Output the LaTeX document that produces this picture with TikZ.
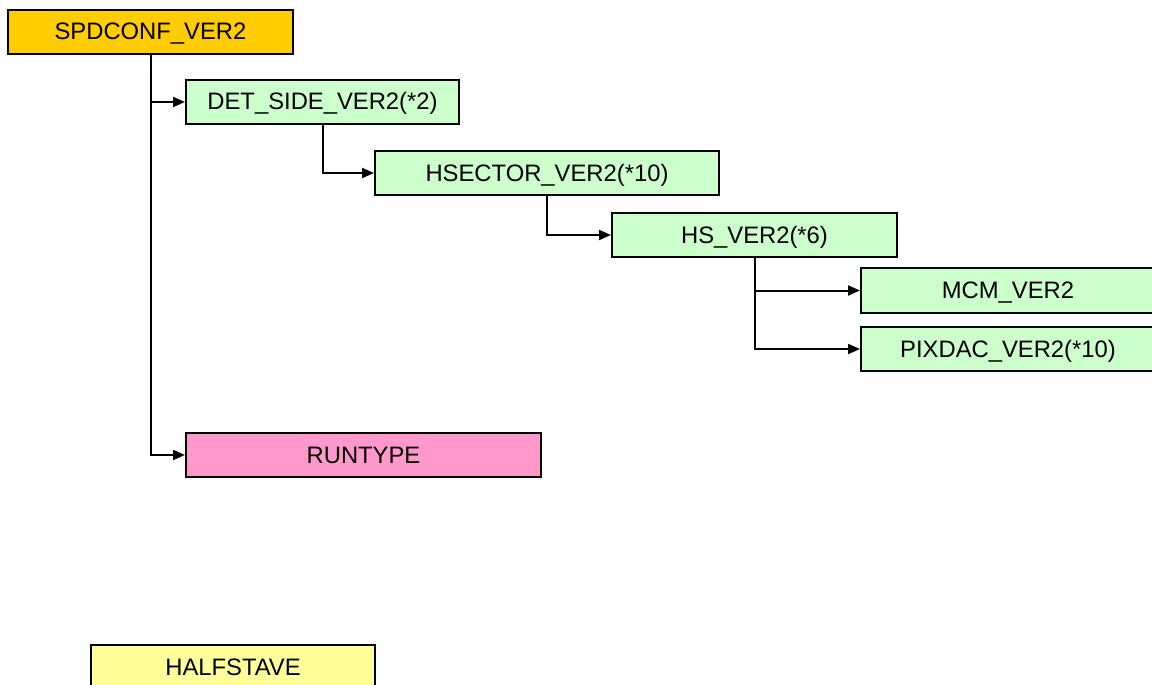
\documentclass[tikz,border=0pt]{standalone}
\usepackage{fontspec}
\setmainfont{Liberation Sans}
\usetikzlibrary{arrows.meta}
\definecolor{orangebox}{HTML}{FFCC00}
\definecolor{greenbox}{HTML}{CCFFCC}
\definecolor{pinkbox}{HTML}{FF99CC}
\definecolor{yellowbox}{HTML}{FFFF99}
\tikzset{
  box/.style={draw=black, line width=2pt, rectangle, inner sep=0pt,
    minimum height=44pt, text height=16pt, text depth=0pt,
    font=\fontsize{23.8}{28}\selectfont, text=black},
  conn/.style={draw=black, line width=2pt, -{Triangle[length=12pt,width=10pt]}}
}
\begin{document}
\begin{tikzpicture}[x=1pt,y=-1pt]
\useasboundingbox (0,0) rectangle (1152,685);
\clip (0,0) rectangle (1152,685);
\node[box, fill=orangebox, minimum width=285pt] (spd) at (150.5,32) {SPDCONF\_VER2};
\node[box, fill=greenbox, minimum width=273pt] (det) at (322.5,102) {DET\_SIDE\_VER2(*2)};
\node[box, fill=greenbox, minimum width=344pt] (hsec) at (547,173) {HSECTOR\_VER2(*10)};
\node[box, fill=greenbox, minimum width=285pt] (hs) at (754.5,235) {HS\_VER2(*6)};
\node[box, fill=greenbox, minimum width=294pt, minimum height=45pt] (mcm) at (1008,290.5) {MCM\_VER2};
\node[box, fill=greenbox, minimum width=294pt] (pix) at (1008,349) {PIXDAC\_VER2(*10)};
\node[box, fill=pinkbox, minimum width=355pt] (run) at (363.5,455) {RUNTYPE};
\node[box, fill=yellowbox, minimum width=284pt, minimum height=45pt] (half) at (233,667.5) {HALFSTAVE};
\draw[conn] (spd.south) |- (det.west);
\draw[conn] (spd.south) |- (run.west);
\draw[conn] (det.south) |- (hsec.west);
\draw[conn] (hsec.south) |- (hs.west);
\draw[conn] (hs.south) |- (mcm.west);
\draw[conn] (hs.south) |- (pix.west);
\end{tikzpicture}
\end{document}
